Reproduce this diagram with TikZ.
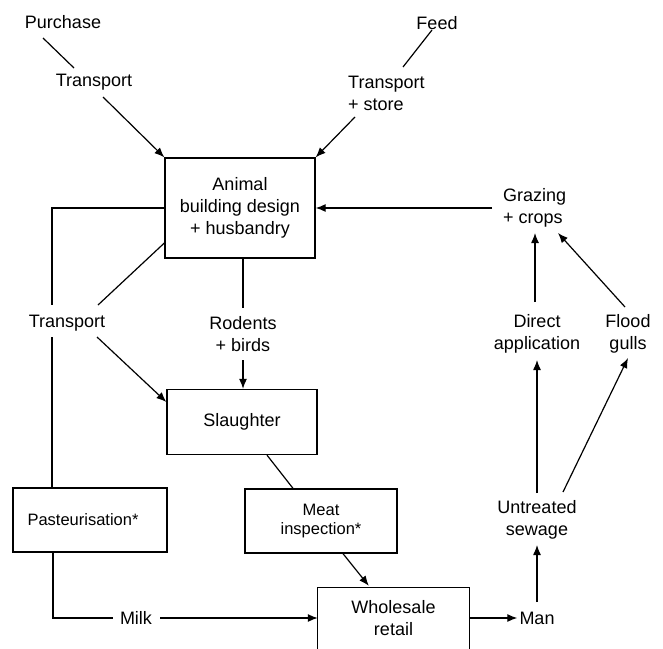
\documentclass[tikz,border=0pt]{standalone}
\usepackage{fontspec}
\setmainfont{Liberation Sans}
\usetikzlibrary{arrows.meta,calc}
\begin{document}
\begin{tikzpicture}[x=1pt,y=-1pt,
  lbl/.style={inner sep=0pt, font=\fontsize{18}{22}\selectfont, align=center},
  boxnode/.style={draw, line width=1.3pt, inner sep=0pt, align=center, font=\fontsize{18}{22}\selectfont},
  smallbox/.style={boxnode, font=\fontsize{16.5}{19}\selectfont},
  ln/.style={line width=1.2pt},
  arr/.style={ln, -{Latex[length=10pt,width=8pt]}},
]
\useasboundingbox (0,0) rectangle (663,648);
\clip (0,0) rectangle (663,648);

% boxes
\node[boxnode, minimum width=150pt, minimum height=100pt] (animal) at (240,208) {Animal\\building design\\+ husbandry};
\node[boxnode, minimum width=150pt, minimum height=65pt] (slaughter) at (242,422) {Slaughter};
\node[smallbox, minimum width=154pt, minimum height=64pt] (pasteur) at (90,520) {\hspace*{-14pt}Pasteurisation*};
\node[smallbox, minimum width=152pt, minimum height=64pt] (meat) at (321,521) {Meat\\inspection*};
\node[inner sep=0pt, align=center, font=\fontsize{18}{22}\selectfont, minimum width=151pt, minimum height=60pt] (wholesale) at (393.5,618) {Wholesale\\retail};
\draw[line width=1.3pt] ([yshift=-12pt]wholesale.south west) -- (wholesale.north west) -- (wholesale.north east) -- ([yshift=-12pt]wholesale.south east);

% labels
\node[lbl] (purchase) at (63,22) {Purchase};
\node[lbl] (tr1) at (94,82) {Transport};
\node[lbl] (feed) at (437,23) {Feed};
\node[lbl, align=left, anchor=west] (tr2) at (348,93) {Transport\\+ store};
\node[lbl, align=left, anchor=west] (grazing) at (503,208) {Grazing\\+ crops};
\node[lbl] (direct) at (537,334) {Direct\\application};
\node[lbl] (flood) at (628,334) {Flood\\gulls};
\node[lbl] (untreated) at (537,520) {Untreated\\sewage};
\node[lbl] (man) at (537,618) {Man};
\node[lbl] (trL) at (67,323) {Transport};
\node[lbl] (rodents) at (243,334) {Rodents\\+ birds};
\node[lbl] (milk) at (136,618) {Milk};

% connectors
\draw[ln] ($(purchase)+(-20,16)$) -- ($(tr1)+(-20,-14)$);
\draw[arr] ($(tr1)+(9,15)$) -- (animal.north west);
\draw[ln] ($(feed)+(-5,7)$) -- ($(tr2.west)+(55,-26)$);
\draw[arr] ($(tr2.west)+(7,24)$) -- (animal.north east);
\draw[arr] ($(grazing.west)+(-11,0)$) -- (animal.east);
\draw[arr] ($(direct)+(-2,-32)$) -- ($(grazing.west)+(32,25)$);
\draw[arr] ($(flood)+(-3,-27)$) -- ($(grazing.west)+(55,25)$);
\draw[arr] ($(untreated)+(0,-27)$) -- ($(direct)+(0,26)$);
\draw[arr] ($(untreated)+(26,-28)$) -- ($(flood)+(0,24)$);
\draw[arr] ($(man)+(0,-16)$) -- ($(untreated)+(0,25)$);
\draw[arr] (wholesale.east) -- ($(man.west)+(-2,0)$);
\draw[arr] ($(meat.south)+(22,0)$) -- ($(wholesale.north west)+(51,-2)$);
\draw[ln] ($(slaughter.south)+(25,0)$) -- ($(meat.north)+(-28,0)$);
\draw[ln] ($(animal.south)+(3,0)$) -- ($(rodents)+(0,-26)$);
\draw[arr] ($(rodents)+(0,26)$) -- (rodents |- slaughter.north);
\draw[ln] ($(animal.west)+(0,35)$) -- ($(trL)+(31,-18)$);
\draw[arr] ($(trL)+(30,14)$) -- ($(slaughter.west)+(0,-20)$);
\draw[ln] (animal.west) -| ($(trL)+(-15,-18)$);
\draw[ln] ($(trL)+(-15,14)$) coordinate (tdown) -- (tdown |- pasteur.north);
\draw[ln] ($(pasteur.south)+(-37,0)$) |- ($(milk.west)+(-7,0)$);
\draw[arr] ($(milk.east)+(8,0)$) -- (wholesale.west);
\end{tikzpicture}
\end{document}
